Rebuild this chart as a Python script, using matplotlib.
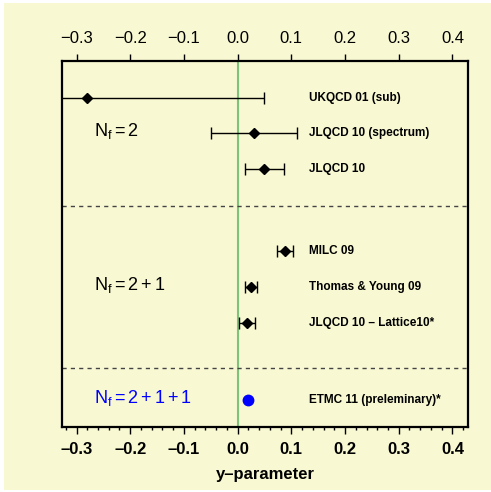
import matplotlib
matplotlib.use("Agg")
import matplotlib.pyplot as plt
from matplotlib.patches import Rectangle
from matplotlib.ticker import MultipleLocator

plt.rcParams['font.family'] = ['Liberation Sans', 'DejaVu Sans']
plt.rcParams['mathtext.fontset'] = 'custom'
plt.rcParams['mathtext.rm'] = 'Liberation Sans'
plt.rcParams['mathtext.it'] = 'Liberation Sans'

# data
labels = ["UKQCD 01 (sub)", "JLQCD 10 (spectrum)", "JLQCD 10",
          "MILC 09", "Thomas & Young 09", "JLQCD 10 \u2013 Lattice10*",
          "ETMC 11 (preleminary)*"]
values = [-0.28, 0.03, 0.05, 0.089, 0.025, 0.017, 0.019]
err_lo = [0.33, 0.08, 0.037, 0.015, 0.011, 0.015, 0.0]
err_hi = [0.33, 0.08, 0.037, 0.015, 0.011, 0.015, 0.0]
groups = [r"$\mathregular{N_f = 2}$", r"$\mathregular{N_f = 2 + 1}$",
          r"$\mathregular{N_f = 2 + 1 + 1}$"]
group_colors = ["black", "black", "blue"]
ticks = [-0.3, -0.2, -0.1, 0.0, 0.1, 0.2, 0.3, 0.4]

# layout (row positions)
ypos = [9.40, 8.42, 7.42, 5.15, 4.15, 3.14, 1.0]
group_y = [8.47, 4.19, 1.06]
sep_y = [6.40, 1.89]

BG = '#F8F8D2'
fig = plt.figure(figsize=(4.91, 4.92), dpi=100, facecolor='white')
fig.patches.append(Rectangle((0.008, 0.004), 0.992, 0.99, transform=fig.transFigure,
                             facecolor=BG, edgecolor='none', zorder=-10))
ax = fig.add_axes([0.1263, 0.1321, 0.8269, 0.7439])
ax.set_facecolor(BG)
ax.set_xlim(-0.327, 0.429)
ax.set_ylim(0.25, 10.42)

ax.axvline(0.0, color='#7DC47A', lw=1.5, zorder=1)
for s in sep_y:
    ax.axhline(s, color='#444444', lw=1.0, ls=(0, (3, 3)), zorder=1)

for i in range(6):
    ax.errorbar(values[i], ypos[i], xerr=[[err_lo[i]], [err_hi[i]]], fmt='D',
                color='black', ms=5, elinewidth=1.0, capsize=4, capthick=1.0,
                zorder=3)
ax.plot(values[6], ypos[6], 'o', color='blue', ms=7.5, zorder=3)

for lab, y in zip(labels, ypos):
    ax.text(0.133, y, lab, fontsize=8.5, fontweight='bold', va='center', ha='left')
for g, y, c in zip(groups, group_y, group_colors):
    ax.text(-0.268, y, g, fontsize=13, color=c, va='center', ha='left')

ax.set_yticks([])
ax.set_xticks(ticks)
ax.set_xticklabels([f"{t:.1f}".replace('-', '\u2013') for t in ticks],
                   fontsize=12, fontweight='bold')
ax.xaxis.set_minor_locator(MultipleLocator(0.02))
ax.tick_params(axis='x', which='major', direction='out', length=5, width=1, pad=6)
ax.tick_params(axis='x', which='minor', direction='out', length=2.5, width=1)

top = ax.secondary_xaxis('top')
top.set_xticks(ticks)
top.set_xticklabels([f"{t:.1f}".replace('-', '\u2212') for t in ticks], fontsize=12)
top.tick_params(axis='x', direction='out', length=5, width=1, pad=6)
top.spines['top'].set_visible(False)

for sp in ax.spines.values():
    sp.set_linewidth(1.6)

ax.set_xlabel("y\u2013parameter", fontsize=12, fontweight='bold', labelpad=7)

fig.savefig("out.png", dpi=100, facecolor='white')
